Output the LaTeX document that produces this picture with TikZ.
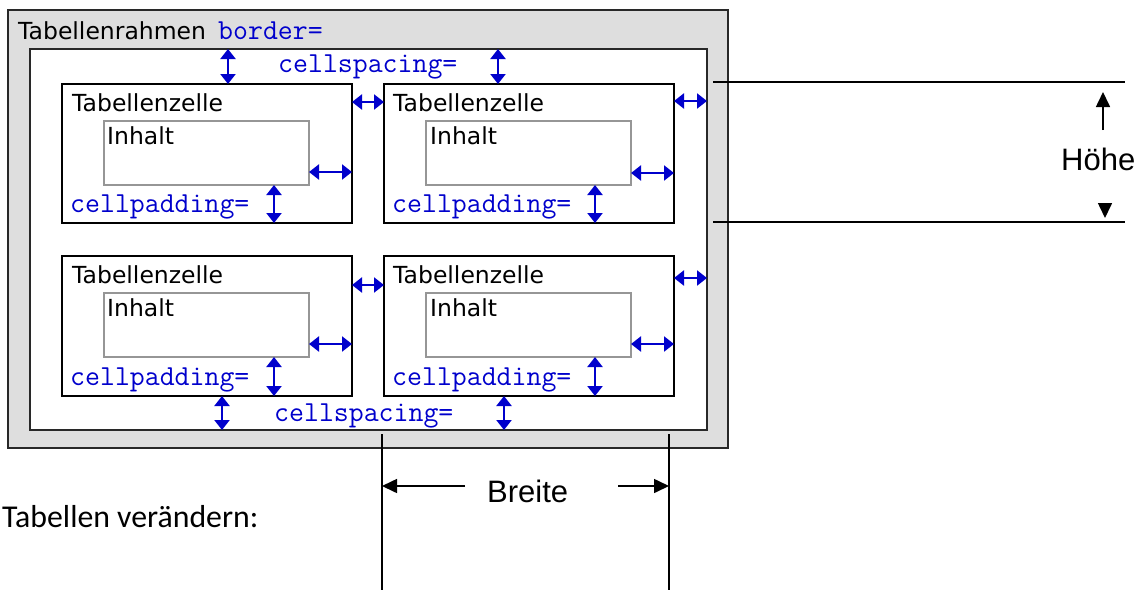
\documentclass[tikz,border=0pt]{standalone}
\usepackage{fontspec}
\setmainfont{DejaVu Sans}
\newfontfamily\labfont{DejaVu Sans}
\newfontfamily\arialfont{Liberation Sans}
\newfontfamily\captfont{Carlito}
\usetikzlibrary{arrows.meta}
\definecolor{codeblue}{RGB}{0,0,204}
\definecolor{framegrey}{RGB}{222,222,222}
\definecolor{boxline}{RGB}{40,40,40}
\definecolor{inline}{RGB}{150,150,150}
\begin{document}
\begin{tikzpicture}[x=1pt,y=-1pt,
  box/.style={rectangle, anchor=north west, inner sep=0, outer sep=0, line width=2pt},
  framebox/.style={box, draw=boxline, fill=framegrey},
  tabbox/.style={box, draw=boxline, fill=white},
  cellbox/.style={box, draw=black, minimum width=290pt, minimum height=139pt},
  contbox/.style={box, draw=inline, minimum width=205pt, minimum height=64pt},
  lbl/.style={anchor=base west, inner sep=0, font=\labfont\fontsize{23.5}{28}\selectfont},
  code/.style={anchor=base west, inner sep=0, text=codeblue, font=\ttfamily\fontsize{29}{32}\selectfont},
  barrow/.style={draw=codeblue, line width=2.3pt, {Triangle[length=10pt,width=15pt,fill=codeblue]}-{Triangle[length=10pt,width=15pt,fill=codeblue]}},
  dimline/.style={line width=1.6pt, draw=black},
  dimarrow/.style={line width=1.6pt, draw=black, -{Triangle[length=15pt,width=14pt]}},
  dimtext/.style={anchor=base west, inner sep=0, font=\arialfont\fontsize{31}{36}\selectfont}
]
\useasboundingbox (0,0) rectangle (1141,590);

% frame and table
\node[framebox, minimum width=720pt, minimum height=438pt] (frame) at (8,10) {};
\node[tabbox, minimum width=677pt, minimum height=381pt] (tab) at (30,49) {};

% cells
\node[cellbox] (c11) at (62,84) {};
\node[cellbox] (c12) at (384,84) {};
\node[cellbox, minimum height=140pt] (c21) at (62,256) {};
\node[cellbox, minimum height=140pt] (c22) at (384,256) {};

% contents
\node[contbox] (i11) at (104,121) {};
\node[contbox] (i12) at (426,121) {};
\node[contbox] (i21) at (104,293) {};
\node[contbox] (i22) at (426,293) {};

% labels
\node[lbl] (rahmen) at (18,39) {Tabellenrahmen};
\node[code] (border) at (218,39) {border=};
\node[code] (spTop) at (278,72) {cellspacing=};
\node[code] (spBot) at (274,421) {cellspacing=};

\node[lbl] (z11) at (72,111) {Tabellenzelle};
\node[lbl] (z12) at (393,111) {Tabellenzelle};
\node[lbl] (z21) at (72,283) {Tabellenzelle};
\node[lbl] (z22) at (393,283) {Tabellenzelle};

\node[lbl] (n11) at (107,144) {Inhalt};
\node[lbl] (n12) at (430,144) {Inhalt};
\node[lbl] (n21) at (107,316) {Inhalt};
\node[lbl] (n22) at (430,316) {Inhalt};

\node[code] (p11) at (70,212) {cellpadding=};
\node[code] (p12) at (392,212) {cellpadding=};
\node[code] (p21) at (70,385) {cellpadding=};
\node[code] (p22) at (392,385) {cellpadding=};

% blue arrows: cellspacing
\draw[barrow] (tab.north -| 228,0) -- (c11.north -| 228,0);
\draw[barrow] (tab.north -| 498,0) -- (c12.north -| 498,0);
\draw[barrow] (c21.south -| 222,0) -- (tab.south -| 222,0);
\draw[barrow] (c22.south -| 504,0) -- (tab.south -| 504,0);
\draw[barrow] (c11.east |- 0,102) -- (c12.west |- 0,102);
\draw[barrow] (c12.east |- 0,101) -- (tab.east |- 0,101);
\draw[barrow] (c21.east |- 0,285) -- (c22.west |- 0,285);
\draw[barrow] (c22.east |- 0,278) -- (tab.east |- 0,278);

% blue arrows: cellpadding
\draw[barrow] (i11.east |- 0,172) -- (c11.east |- 0,172);
\draw[barrow] (i12.east |- 0,173) -- (c12.east |- 0,173);
\draw[barrow] (i21.east |- 0,344) -- (c21.east |- 0,344);
\draw[barrow] (i22.east |- 0,344) -- (c22.east |- 0,344);
\draw[barrow] (i11.south -| 274,0) -- (c11.south -| 274,0);
\draw[barrow] (i12.south -| 595,0) -- (c12.south -| 595,0);
\draw[barrow] (i21.south -| 274,0) -- (c21.south -| 274,0);
\draw[barrow] (i22.south -| 595,0) -- (c22.south -| 595,0);

% height dimension
\coordinate (hA1) at (713,82);
\coordinate (hA2) at (1125,82);
\coordinate (hB1) at (713,222);
\coordinate (hB2) at (1125,222);
\draw[dimline] (hA1) -- (hA2);
\draw[dimline] (hB1) -- (hB2);
\coordinate (hUpT) at (1103,130);
\coordinate (hUpH) at (1103,92);
\coordinate (hDnT) at (1105,203);
\coordinate (hDnH) at (1105,218);
\draw[dimarrow] (hUpT) -- (hUpH);
\draw[dimarrow] (hDnT) -- (hDnH);
\node[dimtext] (hoehe) at (1061,170) {Höhe};

% width dimension
\coordinate (wL1) at (382,434);
\coordinate (wL2) at (382,590);
\coordinate (wR1) at (669,434);
\coordinate (wR2) at (669,590);
\draw[dimline] (wL1) -- (wL2);
\draw[dimline] (wR1) -- (wR2);
\coordinate (wLT) at (465,486);
\coordinate (wRT) at (618,486);
\draw[dimarrow] (wLT) -- (wL1 |- wLT);
\draw[dimarrow] (wRT) -- (wR1 |- wRT);
\node[dimtext] (breite) at (487,502) {Breite};

% caption
\node[anchor=base west, inner sep=0, font=\captfont\fontsize{31.8}{36}\selectfont] (caption) at (2,527) {Tabellen verändern:};
\end{tikzpicture}
\end{document}
